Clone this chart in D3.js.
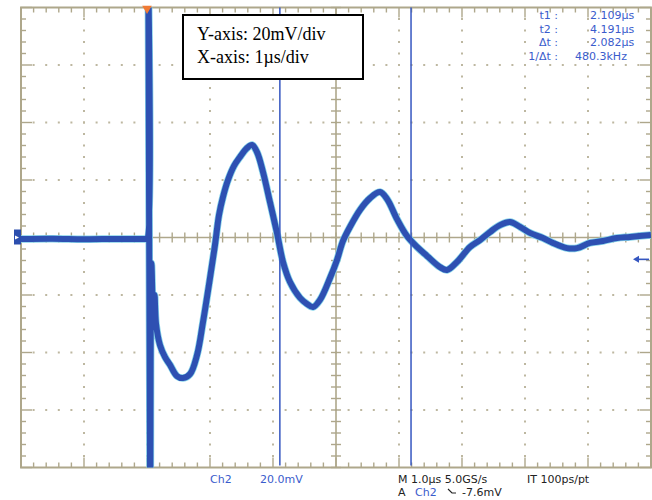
<!DOCTYPE html>
<html>
<head>
<meta charset="utf-8">
<script src="https://cdnjs.cloudflare.com/ajax/libs/d3/7.8.5/d3.min.js"></script>
<style>
    body { margin: 0; background: #fff; }
    svg { display: block; }
</style>
</head>
<body>
<div id="scope"></div>
<script>
// trace: time in µs (trigger at 0), voltage in mV
let timeUs = [-2, -1.5, -1, -0.5, -0.02,
    0.0, 0.02, 0.05, 0.07, 0.1, 0.12, 0.143, 0.206, 0.286, 0.365, 0.476, 0.571, 0.683, 0.794, 0.889,
    1.0, 1.079, 1.143, 1.206, 1.286, 1.381, 1.476, 1.587, 1.667, 1.746, 1.841, 1.952,
    2.063, 2.159, 2.27, 2.429, 2.54, 2.635, 2.746, 2.905,
    3.016, 3.111, 3.222, 3.381, 3.54, 3.698, 3.81, 3.968,
    4.127, 4.286, 4.444, 4.651, 4.762, 4.921,
    5.127, 5.286, 5.444, 5.603, 5.762, 5.921,
    6.079, 6.286, 6.444, 6.667, 6.825,
    7.032, 7.238, 7.46, 7.667, 8.0];
let voltageMv = [-0.5, -0.4, -0.6, -0.5, -0.5,
    -0.5, 95, -95, -9, -30, -20, -30, -37.4, -41.6, -44.3, -48.2, -48.9, -47.5, -40.9, -29.4,
    -14.1, -2.6, 7.8, 14.1, 20.0, 24.9, 28.0, 31.1, 32.2, 29.7, 22.8, 12.3,
    1.6, -8.5, -15.5, -21.0, -23.1, -24.2, -21.7, -14.1,
    -7.8, -1.2, 3.7, 9.6, 13.7, 15.8, 13.4, 6.4,
    0.5, -3.3, -6.4, -10.3, -11.3, -8.5,
    -3.3, -0.9, 1.9, 4.3, 5.4, 3.7,
    1.6, -0.2, -1.9, -3.7, -3.7,
    -1.9, -1.2, -0.2, 0.2, 0.9];

let cursorTimes = [2.109, 4.191];
let triggerLevel = -7.6;

let readoutLabels = ["t1 :", "t2 :", "\u0394t :", "1/\u0394t :"];
let readoutValues = ["2.109\u00b5s", "4.191\u00b5s", "2.082\u00b5s", "480.3kHz"];

let noteLines = ["Y-axis: 20mV/div", "X-axis: 1\u00b5s/div"];

function drawScope() {
    let width = 652;
    let height = 500;

    let svg = d3.select("#scope")
        .append("svg")
        .attr("width", width)
        .attr("height", height);

    svg.append("rect")
        .attr("width", width)
        .attr("height", height)
        .attr("fill", "white");

    // 10 x 8 divisions
    let x = d3.scaleLinear().domain([-2, 8]).range([21, 651]);
    let y = d3.scaleLinear().domain([-80, 80]).range([467.5, 7.5]);

    let gridColor = "#aea78b";
    let dotColor = "#bdb7a0";

    let majorX = d3.range(-2, 8.001, 1);
    let majorY = d3.range(-80, 80.001, 20);
    let minorX = d3.range(-2, 8.001, 0.2);
    let minorY = d3.range(-80, 80.001, 4);

    let grid = svg.append("g").attr("id", "graticule");

    // dotted interior grid lines
    majorX.filter((d) => d > -2 && d < 8 && d != 3).forEach(function (gx) {
        grid.selectAll(null)
            .data(minorY.filter((d) => d > -80 && d < 80))
            .enter()
            .append("rect")
            .attr("x", x(gx) - 1)
            .attr("y", (d) => y(d) - 1)
            .attr("width", 2)
            .attr("height", 2)
            .attr("fill", dotColor);
    });
    majorY.filter((d) => d > -80 && d < 80 && d != 0).forEach(function (gy) {
        grid.selectAll(null)
            .data(minorX.filter((d) => d > -2 && d < 8))
            .enter()
            .append("rect")
            .attr("x", (d) => x(d) - 1)
            .attr("y", y(gy) - 1)
            .attr("width", 2)
            .attr("height", 2)
            .attr("fill", dotColor);
    });

    // center cross with ticks
    grid.append("line")
        .attr("x1", x(-2)).attr("x2", x(8))
        .attr("y1", y(0)).attr("y2", y(0))
        .attr("stroke", gridColor).attr("stroke-width", 1.6);
    grid.append("line")
        .attr("x1", x(3)).attr("x2", x(3))
        .attr("y1", y(-80)).attr("y2", y(80))
        .attr("stroke", gridColor).attr("stroke-width", 1.6);

    grid.selectAll("line.htick")
        .data(minorX)
        .enter()
        .append("line")
        .attr("class", "htick")
        .attr("x1", (d) => x(d)).attr("x2", (d) => x(d))
        .attr("y1", y(0) - 5).attr("y2", y(0) + 5)
        .attr("stroke", gridColor).attr("stroke-width", 1.4);
    grid.selectAll("line.vtick")
        .data(minorY)
        .enter()
        .append("line")
        .attr("class", "vtick")
        .attr("x1", x(3) - 5).attr("x2", x(3) + 5)
        .attr("y1", (d) => y(d)).attr("y2", (d) => y(d))
        .attr("stroke", gridColor).attr("stroke-width", 1.4);

    // frame edge ticks, longer on the major divisions
    let isMajorX = (d) => Math.abs(d - Math.round(d)) < 1e-6;
    let isMajorY = (d) => Math.abs(d / 20 - Math.round(d / 20)) < 1e-6;

    [[y(80), 1], [y(-80), -1]].forEach(function (edge) {
        grid.selectAll(null)
            .data(minorX)
            .enter()
            .append("line")
            .attr("x1", (d) => x(d)).attr("x2", (d) => x(d))
            .attr("y1", edge[0])
            .attr("y2", (d) => edge[0] + edge[1] * (isMajorX(d) ? 10 : 5))
            .attr("stroke", gridColor).attr("stroke-width", 1.4);
    });
    [[x(-2), 1], [x(8), -1]].forEach(function (edge) {
        grid.selectAll(null)
            .data(minorY)
            .enter()
            .append("line")
            .attr("y1", (d) => y(d)).attr("y2", (d) => y(d))
            .attr("x1", edge[0])
            .attr("x2", (d) => edge[0] + edge[1] * (isMajorY(d) ? 11 : 5))
            .attr("stroke", gridColor).attr("stroke-width", 1.4);
    });

    grid.append("rect")
        .attr("x", x(-2))
        .attr("y", y(80))
        .attr("width", x(8) - x(-2))
        .attr("height", y(-80) - y(80))
        .attr("fill", "none")
        .attr("stroke", gridColor)
        .attr("stroke-width", 2);

    // the trace
    svg.append("clipPath")
        .attr("id", "screen")
        .append("rect")
        .attr("x", x(-2))
        .attr("y", y(80))
        .attr("width", x(8) - x(-2))
        .attr("height", y(-80) - y(80));

    let points = timeUs.map((t, i) => [t, voltageMv[i]]);
    let line = d3.line()
        .x((d) => x(d[0]))
        .y((d) => y(d[1]))
        .curve(d3.curveCatmullRom.alpha(0.5));

    let trace = svg.append("g").attr("clip-path", "url(#screen)");
    trace.append("path")
        .attr("d", line(points))
        .attr("fill", "none")
        .attr("stroke", "#86d4ea")
        .attr("stroke-width", 7.5)
        .attr("stroke-linejoin", "round");
    trace.append("path")
        .attr("d", line(points))
        .attr("fill", "none")
        .attr("stroke", "#2e50b2")
        .attr("stroke-width", 6)
        .attr("stroke-linejoin", "round");

    // cursors
    svg.selectAll("line.cursor")
        .data(cursorTimes)
        .enter()
        .append("line")
        .attr("class", "cursor")
        .attr("x1", (d) => x(d)).attr("x2", (d) => x(d))
        .attr("y1", y(80)).attr("y2", y(-80) - 2)
        .attr("stroke", "#3556c0")
        .attr("stroke-width", 1.5);

    // trigger position marker
    svg.append("path")
        .attr("d", d3.symbol().type(d3.symbolTriangle).size(40))
        .attr("transform", "translate(" + x(0) + "," + (y(80) + 1) + ") rotate(180)")
        .attr("fill", "#f07a34");

    // channel 2 ground marker
    svg.append("rect")
        .attr("x", 14)
        .attr("y", y(0) - 8)
        .attr("width", 7)
        .attr("height", 15)
        .attr("fill", "#2c4eae");
    svg.append("path")
        .attr("d", "M15," + (y(0) - 2) + "L19," + y(0) + "L15," + (y(0) + 2) + "Z")
        .attr("fill", "white");

    // trigger level arrow
    let ty = y(triggerLevel);
    svg.append("line")
        .attr("x1", 638).attr("x2", 649)
        .attr("y1", ty).attr("y2", ty)
        .attr("stroke", "#3556c0").attr("stroke-width", 1.6);
    svg.append("path")
        .attr("d", "M633," + ty + "L639," + (ty - 3.5) + "L639," + (ty + 3.5) + "Z")
        .attr("fill", "#3556c0");

    // note box
    svg.append("rect")
        .attr("x", 183)
        .attr("y", 15)
        .attr("width", 180)
        .attr("height", 64)
        .attr("fill", "white")
        .attr("stroke", "black")
        .attr("stroke-width", 2);

    svg.selectAll("text.note")
        .data(noteLines)
        .enter()
        .append("text")
        .attr("class", "note")
        .attr("x", 197)
        .attr("y", (d, i) => 40 + i * 23)
        .style("font-family", "'Liberation Serif', serif")
        .style("font-size", "18px")
        .attr("fill", "black")
        .text((d) => d);

    // cursor readout
    let readout = svg.append("g")
        .style("font-family", "'DejaVu Sans', sans-serif")
        .style("font-size", "11px")
        .attr("fill", "#3a5ccc");

    readout.selectAll("text.lbl")
        .data(readoutLabels)
        .enter()
        .append("text")
        .attr("class", "lbl")
        .attr("x", 558)
        .attr("y", (d, i) => 19 + i * 13.5)
        .attr("text-anchor", "end")
        .text((d) => d);

    readout.selectAll("text.val")
        .data(readoutValues)
        .enter()
        .append("text")
        .attr("class", "val")
        .attr("x", (d, i) => i == 3 ? 575 : 590)
        .attr("y", (d, i) => 19 + i * 13.5)
        .text((d) => d);

    // status line under the screen
    let status = svg.append("g")
        .style("font-family", "'DejaVu Sans', sans-serif")
        .style("font-size", "11px");

    status.append("text").attr("x", 210).attr("y", 483).attr("fill", "#3a5ccc").text("Ch2");
    status.append("text").attr("x", 260).attr("y", 483).attr("fill", "#3a5ccc").text("20.0mV");
    status.append("text").attr("x", 398).attr("y", 483).attr("fill", "#222").text("M 1.0\u00b5s 5.0GS/s");
    status.append("text").attr("x", 527).attr("y", 483).attr("fill", "#222").text("IT 100ps/pt");
    status.append("text").attr("x", 398).attr("y", 496).attr("fill", "#222").text("A");
    status.append("text").attr("x", 415).attr("y", 496).attr("fill", "#3a5ccc").text("Ch2");
    status.append("path")
        .attr("d", "M448,489L452,493L456,493")
        .attr("fill", "none")
        .attr("stroke", "#222")
        .attr("stroke-width", 1.1);
    status.append("text").attr("x", 462).attr("y", 496).attr("fill", "#222").text("-7.6mV");
}

drawScope();
</script>
</body>
</html>
